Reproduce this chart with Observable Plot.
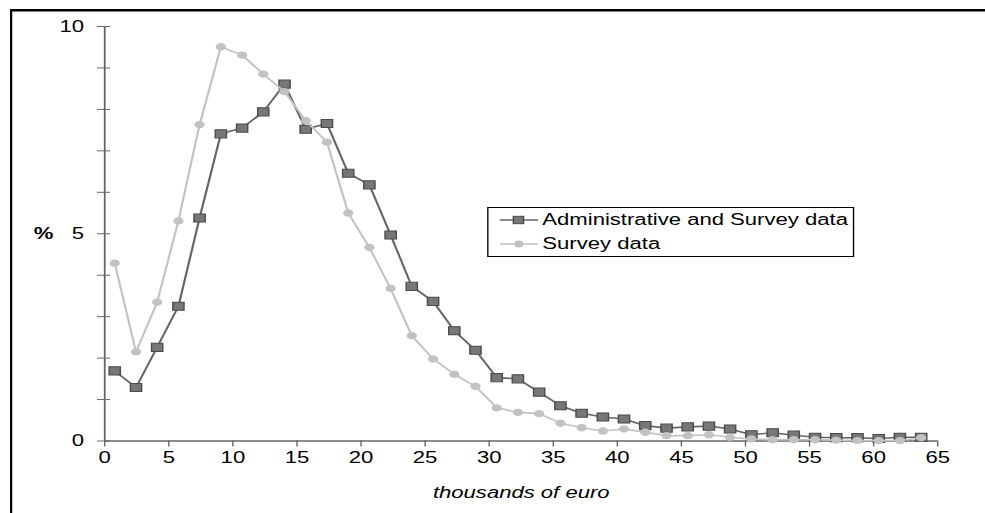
<!DOCTYPE html>
<html>
<head>
<meta charset="utf-8">
<script src="https://cdn.jsdelivr.net/npm/d3@7"></script>
<script src="https://cdn.jsdelivr.net/npm/@observablehq/plot@0.6"></script>
<style>
html, body { margin: 0; padding: 0; background: #fff; overflow: hidden; }
body { width: 985px; height: 513px; position: relative; }
#wrap { position: absolute; left: 0; top: 0; width: 714px; height: 513px; transform: scaleX(1.38); transform-origin: 0 0;
        font-family: "Liberation Sans", Arial, sans-serif; }
#chart { position: absolute; left: 0; top: 0; }
#legend { position: absolute; left: 353px; top: 207px; width: 264px; height: 48px;
          border: 1px solid #000; background: #fff; font-size: 16px; color: #000; }
.row { position: absolute; left: 0; height: 20px; display: flex; align-items: center; }
.row svg { display: block; margin-left: 8px; }
.row span { margin-left: 3px; white-space: nowrap; }
#border { position: absolute; left: 0; top: 0; pointer-events: none; z-index: 20; }
</style>
</head>
<body>
<div id="wrap">
  <div id="chart"></div>
  <div id="legend"></div>
</div>
<svg id="border" width="985" height="513"><rect x="10" y="9" width="975" height="2.5" fill="#000"/><rect x="10" y="9" width="2.2" height="504" fill="#000"/></svg>
<script>
// Income bins (thousands of euro), point positions
const income = [0.78, 2.44, 4.09, 5.75, 7.40, 9.06, 10.72, 12.37, 14.03, 15.68,
                17.34, 19.00, 20.65, 22.31, 23.96, 25.62, 27.28, 28.93, 30.59, 32.24,
                33.90, 35.56, 37.21, 38.87, 40.52, 42.18, 43.84, 45.49, 47.15, 48.80,
                50.46, 52.12, 53.77, 55.43, 57.08, 58.74, 60.40, 62.05, 63.71];
// Administrative and Survey data (%)
const adminSurvey = [1.69, 1.29, 2.26, 3.25, 5.38, 7.41, 7.55, 7.94, 8.61, 7.52,
                     7.66, 6.46, 6.18, 4.97, 3.73, 3.37, 2.66, 2.19, 1.53, 1.50,
                     1.18, 0.85, 0.67, 0.58, 0.53, 0.37, 0.31, 0.34, 0.36, 0.29,
                     0.15, 0.20, 0.14, 0.09, 0.08, 0.08, 0.06, 0.09, 0.09];
// Survey data (%)
const surveyOnly = [4.29, 2.15, 3.35, 5.31, 7.63, 9.51, 9.31, 8.85, 8.43, 7.73,
                    7.21, 5.50, 4.67, 3.68, 2.54, 1.98, 1.61, 1.32, 0.80, 0.69,
                    0.66, 0.43, 0.32, 0.24, 0.29, 0.21, 0.13, 0.13, 0.15, 0.09,
                    0.05, 0.03, 0.03, 0.03, 0.02, 0.01, 0.01, 0.01, 0.08];
const seriesNames = ["Administrative and Survey data", "Survey data"];
const xTicks = [0, 5, 10, 15, 20, 25, 30, 35, 40, 45, 50, 55, 60, 65];
const yMinorTicks = [0, 1, 2, 3, 4, 5, 6, 7, 8, 9, 10];
const yLabelTicks = [0, 5, 10];
const xTitle = "thousands of euro";
const yTitle = "%";

const data = income.map((x, i) => ({x, admin: adminSurvey[i], survey: surveyOnly[i]}));

const C_ADMIN_LINE = "#666666", C_ADMIN_FILL = "#777777", C_ADMIN_STROKE = "#4a4a4a";
const C_SURV = "#c2c2c2";

const chart = Plot.plot({
  width: 714, height: 513,
  marginLeft: 75.4, marginRight: 35, marginTop: 26, marginBottom: 72.5,
  style: {fontFamily: "Liberation Sans, Arial, sans-serif", fontSize: "16px", color: "#000", background: "transparent", overflow: "visible"},
  x: {domain: [0, 65], label: null},
  y: {domain: [0, 10], label: null},
  marks: [
    Plot.axisY(yMinorTicks, {tickSize: 9.4, dx: 4.3, tickFormat: () => "", stroke: "#666", label: null}),
    Plot.axisY(yLabelTicks, {tickSize: 0, tickPadding: 15, fontSize: 16, label: null}),
    Plot.axisX(xTicks, {tickSize: 6, tickPadding: 5, stroke: "#666", fontSize: 16, label: null}),
    Plot.ruleX([0], {y1: 0, y2: 10, stroke: "#666", strokeWidth: 1.3}),
    Plot.ruleY([0], {x1: 0, x2: 65, stroke: "#666", strokeWidth: 1.5}),
    Plot.line(data, {x: "x", y: "admin", stroke: C_ADMIN_LINE, strokeWidth: 1.6}),
    Plot.dot(data, {x: "x", y: "admin", symbol: "square", r: 4.6, fill: C_ADMIN_FILL, stroke: C_ADMIN_STROKE, strokeWidth: 1}),
    Plot.line(data, {x: "x", y: "survey", stroke: C_SURV, strokeWidth: 1.6}),
    Plot.dot(data, {x: "x", y: "survey", r: 3.7, fill: C_SURV, stroke: "none"}),
    Plot.text([yTitle], {frameAnchor: "left", y: () => 5, dx: -51.5, fontWeight: "bold", fontSize: 16}),
    Plot.text([xTitle], {frameAnchor: "bottom", dy: 52, lineAnchor: "middle", fontStyle: "italic", fontSize: 16})
  ]
});
document.getElementById("chart").appendChild(chart);

// Legend
const legend = document.getElementById("legend");
seriesNames.forEach((name, i) => {
  const row = document.createElement("div");
  row.className = "row";
  row.style.top = (i === 0 ? 2 : 26) + "px";
  const isAdmin = i === 0;
  const sw = isAdmin ?
    `<svg width="28" height="14"><line x1="0" y1="7" x2="28" y2="7" stroke="${C_ADMIN_LINE}" stroke-width="1.6"/><rect x="10" y="3.3" width="7.4" height="7.4" fill="${C_ADMIN_FILL}" stroke="${C_ADMIN_STROKE}" stroke-width="1"/></svg>` :
    `<svg width="28" height="14"><line x1="0" y1="7" x2="28" y2="7" stroke="${C_SURV}" stroke-width="1.6"/><circle cx="14" cy="7" r="3.4" fill="${C_SURV}"/></svg>`;
  row.innerHTML = sw + `<span>${name}</span>`;
  legend.appendChild(row);
});
</script>
</body>
</html>
